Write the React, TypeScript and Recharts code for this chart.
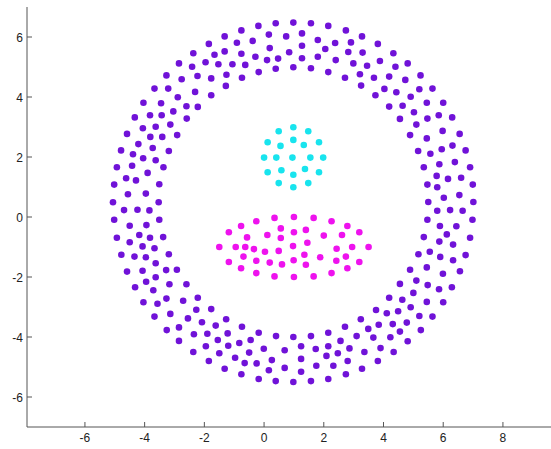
import { ScatterChart, Scatter, XAxis, YAxis } from 'recharts';

// purple ring, read quadrant by quadrant
const ringUpperLeft = [
  [0.39, 6.46], [-0.19, 6.37], [-0.76, 6.22], [-1.32, 6.02], [-1.85, 5.77], [-2.37, 5.46], [-2.85, 5.12], [-3.27, 4.72], [-3.67, 4.28], [-4.04, 3.81], [-4.33, 3.32],
  [0.16, 6.08], [-0.38, 5.87], [-0.91, 5.81], [-1.32, 5.52], [-1.66, 5.41], [-1.96, 5.16], [-2.41, 5.01], [-2.76, 4.59], [-3.21, 4.28], [-3.45, 3.79], [-3.82, 3.39],
  [0.19, 5.63], [-0.29, 5.34], [-0.76, 5.44], [-0.63, 5.07], [-1.06, 5.09], [-1.53, 5.09], [-2.23, 4.7], [-1.77, 4.62], [-2.31, 4.17], [-2.89, 3.99], [-3.04, 3.52], [-3.43, 3.39],
  [0.47, 5.28], [0.1, 5.23], [0.39, 4.94], [-0.18, 4.83], [-0.74, 4.64], [-1.26, 4.74], [-1.28, 4.37], [-1.77, 4.06], [-2.22, 3.67], [-2.6, 3.69], [-2.59, 3.28],
];
const ringUpperRight = [
  [0.98, 6.48], [1.57, 6.46], [2.15, 6.37], [2.74, 6.22], [1.27, 6.12], [0.74, 6.02], [3.28, 6.02], [1.8, 5.9], [2.38, 5.8], [2.91, 5.82],
  [3.81, 5.77], [1.27, 5.71], [2.05, 5.6], [0.84, 5.49], [2.82, 5.5], [3.3, 5.48], [4.33, 5.46], [1.8, 5.34], [1.27, 5.29], [2.4, 5.23],
  [3.88, 5.2], [2.99, 5.12], [3.45, 5.04], [4.81, 5.12], [4.4, 5.01], [0.98, 4.99], [1.57, 4.96], [2.15, 4.83], [3.21, 4.76], [5.24, 4.72],
  [4.19, 4.68], [2.71, 4.64], [3.68, 4.64], [4.73, 4.57], [3.25, 4.38], [4.03, 4.27], [5.2, 4.26], [5.64, 4.28], [4.43, 4.16], [3.73, 4.06],
  [4.91, 4.01], [5.45, 3.81], [6.0, 3.81], [4.19, 3.68], [4.64, 3.71], [5.02, 3.49], [5.85, 3.39], [6.3, 3.32], [4.55, 3.27], [5.47, 3.28],
];
const ringLeft = [
  [-4.06, 2.96], [-3.63, 3.01], [-3.14, 3.08], [-4.59, 2.77], [-3.81, 2.67], [-3.41, 2.67], [-2.91, 2.73], [-4.21, 2.43], [-3.73, 2.3], [-3.19, 2.2],
  [-4.79, 2.22], [-4.39, 2.09], [-4.05, 1.96], [-3.63, 1.89], [-4.93, 1.66], [-4.42, 1.71], [-3.37, 1.66], [-3.9, 1.47], [-4.62, 1.29], [-4.29, 1.22],
  [-3.51, 1.09], [-5.02, 1.08], [-4.56, 0.76], [-3.96, 0.78], [-5.06, 0.49], [-3.53, 0.49], [-4.69, 0.23], [-4.24, 0.24], [-3.84, 0.22], [-5.02, -0.09],
  [-3.51, -0.09], [-4.5, -0.29], [-3.94, -0.27], [-4.18, -0.6], [-3.82, -0.69], [-3.38, -0.67], [-4.93, -0.69], [-4.5, -0.84], [-4.07, -0.98], [-3.67, -1.04],
  [-4.78, -1.26], [-4.34, -1.32], [-3.96, -1.34], [-3.19, -1.24], [-3.63, -1.54], [-4.59, -1.82], [-4.07, -1.79], [-3.28, -1.77], [-2.92, -1.76], [-3.95, -2.16],
  [-3.63, -2.01], [-4.32, -2.34], [-3.71, -2.44], [-3.17, -2.24], [-2.6, -2.24], [-4.04, -2.84], [-3.57, -2.89], [-3.27, -2.72], [-2.71, -2.79], [-2.22, -2.69],
  [-2.27, -3.09], [-1.77, -3.07],
];
const ringRight = [
  [5.1, 3.08], [4.89, 2.73], [5.45, 2.62], [5.98, 2.87], [6.55, 2.77], [5.16, 2.2], [5.57, 2.11], [5.95, 2.26], [6.31, 2.38], [6.75, 2.22],
  [5.35, 1.66], [5.87, 1.76], [6.39, 1.83], [6.9, 1.66], [5.78, 1.37], [5.47, 1.08], [5.8, 0.99], [6.16, 1.27], [6.6, 1.31], [6.99, 1.08],
  [6.02, 0.64], [6.54, 0.73], [5.5, 0.5], [7.01, 0.5], [5.8, 0.21], [6.23, 0.23], [6.65, 0.21], [5.47, -0.09], [6.98, -0.09], [5.89, -0.3],
  [6.44, -0.31], [6.12, -0.58], [5.35, -0.67], [5.87, -0.82], [6.33, -0.92], [6.9, -0.69], [5.17, -1.24], [5.55, -1.16], [5.9, -1.33], [6.33, -1.44],
  [6.75, -1.27], [5.45, -1.68], [4.89, -1.76], [5.99, -1.89], [6.56, -1.81], [5.1, -2.12], [4.55, -2.23], [5.48, -2.27], [5.86, -2.41], [6.29, -2.34],
  [5.0, -2.53], [4.63, -2.76], [5.45, -2.83], [6.0, -2.84], [4.91, -3.01], [4.19, -2.69],
];
const ringLowerLeft = [
  [-3.67, -3.32], [-3.14, -3.23], [-2.55, -3.38], [-3.26, -3.77], [-2.85, -3.68], [-2.08, -3.51], [-1.62, -3.62], [-1.27, -3.41], [-2.85, -4.13], [-2.35, -3.91],
  [-1.9, -3.89], [-1.55, -4.1], [-1.22, -3.88], [-0.74, -3.66], [-2.37, -4.5], [-1.95, -4.31], [-1.5, -4.54], [-1.2, -4.29], [-0.83, -4.2], [-0.45, -4.1],
  [-0.18, -3.86], [0.4, -3.97], [-1.85, -4.8], [-0.97, -4.69], [-0.65, -4.87], [-0.5, -4.52], [-0.01, -4.39], [-1.32, -5.06], [-0.25, -4.88], [0.26, -4.77],
  [-0.76, -5.24], [0.16, -5.11], [-0.18, -5.4], [0.39, -5.47],
];
const ringLowerRight = [
  [3.75, -3.1], [4.11, -3.21], [4.49, -3.14], [5.2, -3.3], [5.64, -3.32], [3.24, -3.41], [2.71, -3.66], [3.84, -3.59], [4.31, -3.57], [4.78, -3.52],
  [5.25, -3.77], [3.49, -3.73], [4.55, -3.82], [2.15, -3.86], [0.98, -4.0], [1.57, -3.97], [3.1, -3.97], [3.66, -4.02], [4.23, -4.01], [2.56, -4.13],
  [4.81, -4.14], [1.24, -4.31], [2.15, -4.31], [1.73, -4.4], [2.86, -4.38], [3.9, -4.37], [0.69, -4.44], [3.36, -4.5], [4.34, -4.5], [2.47, -4.54],
  [2.09, -4.63], [1.24, -4.73], [2.8, -4.8], [3.81, -4.8], [1.75, -4.96], [2.32, -4.96], [0.69, -5.03], [3.28, -5.06], [1.24, -5.16], [2.74, -5.24],
  [0.98, -5.5], [1.57, -5.47], [2.15, -5.4],
];

// cyan disc
const discPoints = [
  [0.98, 2.99], [0.49, 2.86], [1.48, 2.86], [0.12, 2.49], [0.98, 2.57], [0.55, 2.37], [1.33, 2.4], [1.84, 2.49],
  [0, 1.98], [0.41, 1.98], [0.95, 1.98], [1.55, 1.98], [1.98, 1.98],
  [0.12, 1.49], [0.58, 1.56], [1.37, 1.6], [1.84, 1.49], [0.98, 1.41], [0.49, 1.13], [1.48, 1.13], [0.98, 0.99],
];

// magenta ellipse
const ellipsePoints = [
  [-1.5, -1], [-1.18, -0.51], [-1.18, -1.5], [-0.77, -0.3], [-0.77, -1.71], [-0.26, -0.14], [-0.26, -1.87], [0.35, -0.03], [0.35, -1.98], [1, 0],
  [1, -2], [1.66, -0.03], [1.66, -1.98], [2.26, -0.14], [2.26, -1.87], [2.79, -0.3], [2.79, -1.71], [3.19, -0.51], [3.19, -1.5], [3.5, -1],
  [0.56, -0.38], [1.4, -0.43], [-0.57, -0.68], [0.11, -0.6], [0.56, -0.7], [1, -0.51], [2.0, -0.62], [2.61, -0.6], [-0.95, -1], [-0.63, -1],
  [-0.34, -1.07], [0.03, -1.16], [0.49, -1.13], [0.97, -0.97], [1.45, -0.86], [2.43, -1.06], [2.95, -1], [-0.69, -1.32], [-0.26, -1.46], [0.19, -1.52],
  [0.6, -1.58], [0.99, -1.44], [1.35, -1.26], [1.4, -1.59], [1.88, -1.34], [2.42, -1.46], [2.74, -1.32],
];

const xTicks = [-6, -4, -2, 0, 2, 4, 6, 8];
const yTicks = [-6, -4, -2, 0, 2, 4, 6];

const toXY = (pts: number[][]) => pts.map(([x, y]) => ({ x, y }));
const ringData = toXY([
  ...ringUpperLeft, ...ringUpperRight, ...ringLeft, ...ringRight, ...ringLowerLeft, ...ringLowerRight,
]);
const discData = toXY(discPoints);
const ellipseData = toXY(ellipsePoints);

const AXIS = '#555';
const LABEL = '#222';
const FONT = '"Liberation Sans", Arial, sans-serif';

const XTick = (props: any) => {
  const { x, y, payload } = props;
  return (
    <g>
      <line x1={x} x2={x} y1={y} y2={y - 5} stroke={AXIS} />
      <text x={x} y={y + 15} textAnchor="middle" fill={LABEL} fontSize={12} fontFamily={FONT}>
        {payload.value}
      </text>
    </g>
  );
};

const YTick = (props: any) => {
  const { x, y, payload } = props;
  return (
    <g>
      <line x1={x} x2={x + 5} y1={y} y2={y} stroke={AXIS} />
      <text x={x - 4} y={y + 4.5} textAnchor="end" fill={LABEL} fontSize={12} fontFamily={FONT}>
        {payload.value}
      </text>
    </g>
  );
};

const dot = (color: string) => (p: any) => <circle cx={p.cx} cy={p.cy} r={3.3} fill={color} />;

export default function App() {
  return (
    <div style={{ position: 'fixed', left: 0, top: 0, width: 551, height: 449, overflow: 'hidden', background: '#fff' }}>
      <ScatterChart width={551} height={449} margin={{ top: 7, right: 0, bottom: 0, left: 0 }}>
        <XAxis
          type="number"
          dataKey="x"
          domain={[-7.94, 9.61]}
          ticks={xTicks}
          interval={0}
          height={22}
          tickSize={0}
          tickMargin={0}
          tickLine={false}
          tick={<XTick />}
          axisLine={{ stroke: AXIS }}
        />
        <YAxis
          type="number"
          dataKey="y"
          domain={[-7, 7]}
          ticks={yTicks}
          interval={0}
          width={27}
          tickSize={0}
          tickMargin={0}
          tickLine={false}
          tick={<YTick />}
          axisLine={{ stroke: AXIS }}
        />
        <Scatter data={ringData} fill="#7012D8" shape={dot('#7012D8')} isAnimationActive={false} />
        <Scatter data={discData} fill="#18E4EE" shape={dot('#18E4EE')} isAnimationActive={false} />
        <Scatter data={ellipseData} fill="#EE12EE" shape={dot('#EE12EE')} isAnimationActive={false} />
      </ScatterChart>
    </div>
  );
}
